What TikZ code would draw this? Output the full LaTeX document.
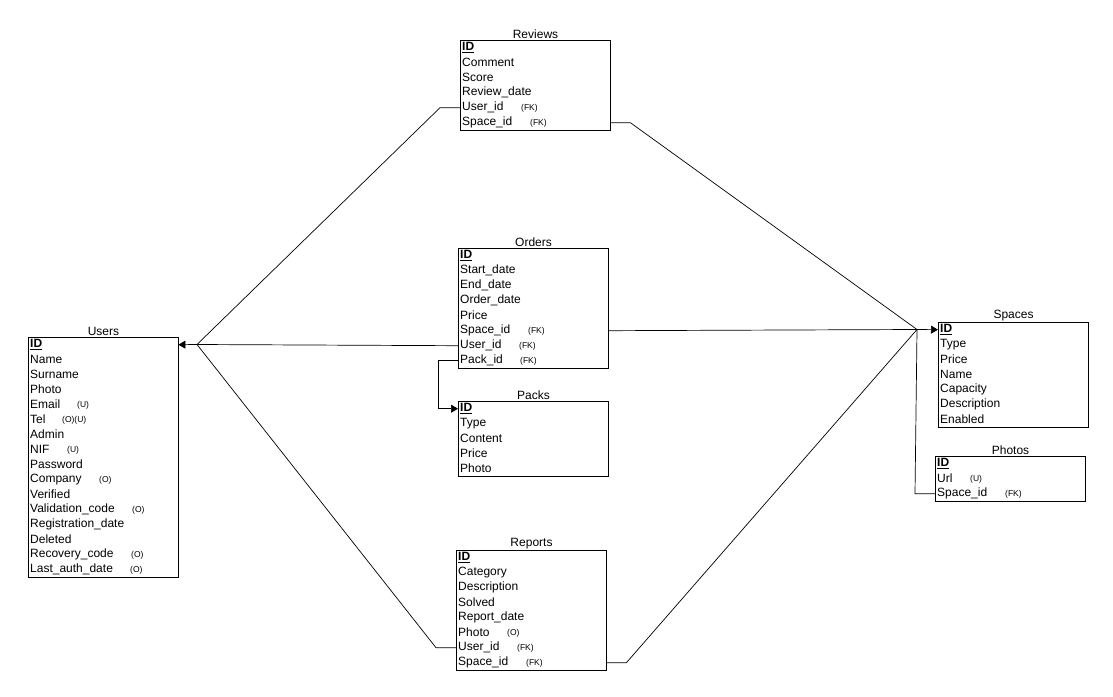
\documentclass[tikz,border=0pt]{standalone}
\usepackage{fontspec}
\setmainfont{Liberation Sans}
\usetikzlibrary{arrows.meta}
\tikzset{
 tbl/.style={draw, line width=1pt, anchor=north west, minimum width=150pt, inner sep=0},
 ttl/.style={anchor=south, inner sep=1pt, font=\fontsize{12}{14}\selectfont},
 fld/.style={anchor=north west, text width=146pt, inner xsep=2pt, inner ysep=0pt, minimum height=15pt, font=\fontsize{12}{14}\selectfont, align=left},
 ann/.style={anchor=west, inner sep=0pt, font=\fontsize{8.5}{10}\selectfont, yshift=-0.6pt},
 rel/.style={line width=0.7pt, line join=miter},
 tip/.style={-{Triangle[length=7pt,width=8pt]}}
}
\newcommand{\pk}{\textbf{\underline{ID}}}
\newcommand{\fldtxt}[1]{\raisebox{-0.8pt}{#1}}
\begin{document}
\begin{tikzpicture}[x=1pt,y=-1pt]
\useasboundingbox (0,0) rectangle (1113,696);
% ---------- Users
\node[tbl, minimum height=240pt] (users) at (28,337) {};
\node[ttl] at (users.north) {Users};
\node[fld] (u1) at (28,337) {\fldtxt{\pk}};
\node[fld] (u2) at (28,352) {\fldtxt{Name}};
\node[fld] (u3) at (28,367) {\fldtxt{Surname}};
\node[fld] (u4) at (28,382) {\fldtxt{Photo}};
\node[fld] (u5) at (28,397) {\fldtxt{Email}};
\node[fld] (u6) at (28,412) {\fldtxt{Tel}};
\node[fld] (u7) at (28,427) {\fldtxt{Admin}};
\node[fld] (u8) at (28,442) {\fldtxt{NIF}};
\node[fld] (u9) at (28,457) {\fldtxt{Password}};
\node[fld] (u10) at (28,472) {\fldtxt{Company}};
\node[fld] (u11) at (28,487) {\fldtxt{Verified}};
\node[fld] (u12) at (28,502) {\fldtxt{Validation\_code}};
\node[fld] (u13) at (28,517) {\fldtxt{Registration\_date}};
\node[fld] (u14) at (28,532) {\fldtxt{Deleted}};
\node[fld] (u15) at (28,547) {\fldtxt{Recovery\_code}};
\node[fld] (u16) at (28,562) {\fldtxt{Last\_auth\_date}};
\node[ann] (ua5) at (77,404.5) {(U)};
\node[ann] (ua6) at (62,419.5) {(O)(U)};
\node[ann] (ua8) at (67,449.5) {(U)};
\node[ann] (ua10) at (99,479.5) {(O)};
\node[ann] (ua12) at (132,509.5) {(O)};
\node[ann] (ua15) at (131,554.5) {(O)};
\node[ann] (ua16) at (130,569.5) {(O)};
% ---------- Reviews
\node[tbl, minimum height=90pt] (reviews) at (460,40) {};
\node[ttl] at (reviews.north) {Reviews};
\node[fld] (rv1) at (460,40) {\fldtxt{\pk}};
\node[fld] (rv2) at (460,55) {\fldtxt{Comment}};
\node[fld] (rv3) at (460,70) {\fldtxt{Score}};
\node[fld] (rv4) at (460,85) {\fldtxt{Review\_date}};
\node[fld] (rv5) at (460,100) {\fldtxt{User\_id}};
\node[fld] (rv6) at (460,115) {\fldtxt{Space\_id}};
\node[ann] (rva5) at (521,107.5) {(FK)};
\node[ann] (rva6) at (530,122.5) {(FK)};
% ---------- Orders
\node[tbl, minimum height=120pt] (orders) at (458,248) {};
\node[ttl] at (orders.north) {Orders};
\node[fld] (o1) at (458,248) {\fldtxt{\pk}};
\node[fld] (o2) at (458,263) {\fldtxt{Start\_date}};
\node[fld] (o3) at (458,278) {\fldtxt{End\_date}};
\node[fld] (o4) at (458,293) {\fldtxt{Order\_date}};
\node[fld] (o5) at (458,308) {\fldtxt{Price}};
\node[fld] (o6) at (458,323) {\fldtxt{Space\_id}};
\node[fld] (o7) at (458,338) {\fldtxt{User\_id}};
\node[fld] (o8) at (458,353) {\fldtxt{Pack\_id}};
\node[ann] (oa6) at (528,330.5) {(FK)};
\node[ann] (oa7) at (519,345.5) {(FK)};
\node[ann] (oa8) at (520,360.5) {(FK)};
% ---------- Packs
\node[tbl, minimum height=75pt] (packs) at (458,401) {};
\node[ttl] at (packs.north) {Packs};
\node[fld] (p1) at (458,401) {\fldtxt{\pk}};
\node[fld] (p2) at (458,416) {\fldtxt{Type}};
\node[fld] (p3) at (458,431) {\fldtxt{Content}};
\node[fld] (p4) at (458,446) {\fldtxt{Price}};
\node[fld] (p5) at (458,461) {\fldtxt{Photo}};
% ---------- Reports
\node[tbl, minimum height=120pt] (reports) at (456,550) {};
\node[ttl] at (reports.north) {Reports};
\node[fld] (r1) at (456,550) {\fldtxt{\pk}};
\node[fld] (r2) at (456,565) {\fldtxt{Category}};
\node[fld] (r3) at (456,580) {\fldtxt{Description}};
\node[fld] (r4) at (456,595) {\fldtxt{Solved}};
\node[fld] (r5) at (456,610) {\fldtxt{Report\_date}};
\node[fld] (r6) at (456,625) {\fldtxt{Photo}};
\node[fld] (r7) at (456,640) {\fldtxt{User\_id}};
\node[fld] (r8) at (456,655) {\fldtxt{Space\_id}};
\node[ann] (ra6) at (507,632.5) {(O)};
\node[ann] (ra7) at (517,647.5) {(FK)};
\node[ann] (ra8) at (526,662.5) {(FK)};
% ---------- Spaces
\node[tbl, minimum height=105pt] (spaces) at (938,322) {};
\node[ttl] at (spaces.north) {Spaces};
\node[fld] (s1) at (938,322) {\fldtxt{\pk}};
\node[fld] (s2) at (938,337) {\fldtxt{Type}};
\node[fld] (s3) at (938,352) {\fldtxt{Price}};
\node[fld] (s4) at (938,367) {\fldtxt{Name}};
\node[fld] (s5) at (938,382) {\fldtxt{Capacity}};
\node[fld] (s6) at (938,397) {\fldtxt{Description}};
\node[fld] (s7) at (938,412) {\fldtxt{Enabled}};
% ---------- Photos
\node[tbl, minimum height=45pt] (photos) at (935,456) {};
\node[ttl] at (photos.north) {Photos};
\node[fld] (ph1) at (935,456) {\fldtxt{\pk}};
\node[fld] (ph2) at (935,471) {\fldtxt{Url}};
\node[fld] (ph3) at (935,486) {\fldtxt{Space\_id}};
\node[ann] (pha2) at (970,478.5) {(U)};
\node[ann] (pha3) at (1005,493.5) {(FK)};
% ---------- connectors
\coordinate (uj) at (197,344.5);
\coordinate (sj) at (917,329.5);
\draw[rel,tip] (uj) -- (u1.east);
\draw[rel] (rv5.west) -- ++(-20,0) -- (uj);
\draw[rel] (o7.west) -- (uj);
\draw[rel] (r7.west) -- ++(-20,0) -- (uj);
\draw[rel,tip] (sj) -- (s1.west);
\draw[rel] (rv6.east) -- ++(20,0) -- (sj);
\draw[rel] (o6.east) -- (sj);
\draw[rel] (r8.east) -- ++(20,0) -- (sj);
\draw[rel] (ph3.west) -- ++(-20,0) -- (sj);
\draw[rel,tip] (o8.west) -- ++(-20,0) |- (p1.west);
\end{tikzpicture}
\end{document}
